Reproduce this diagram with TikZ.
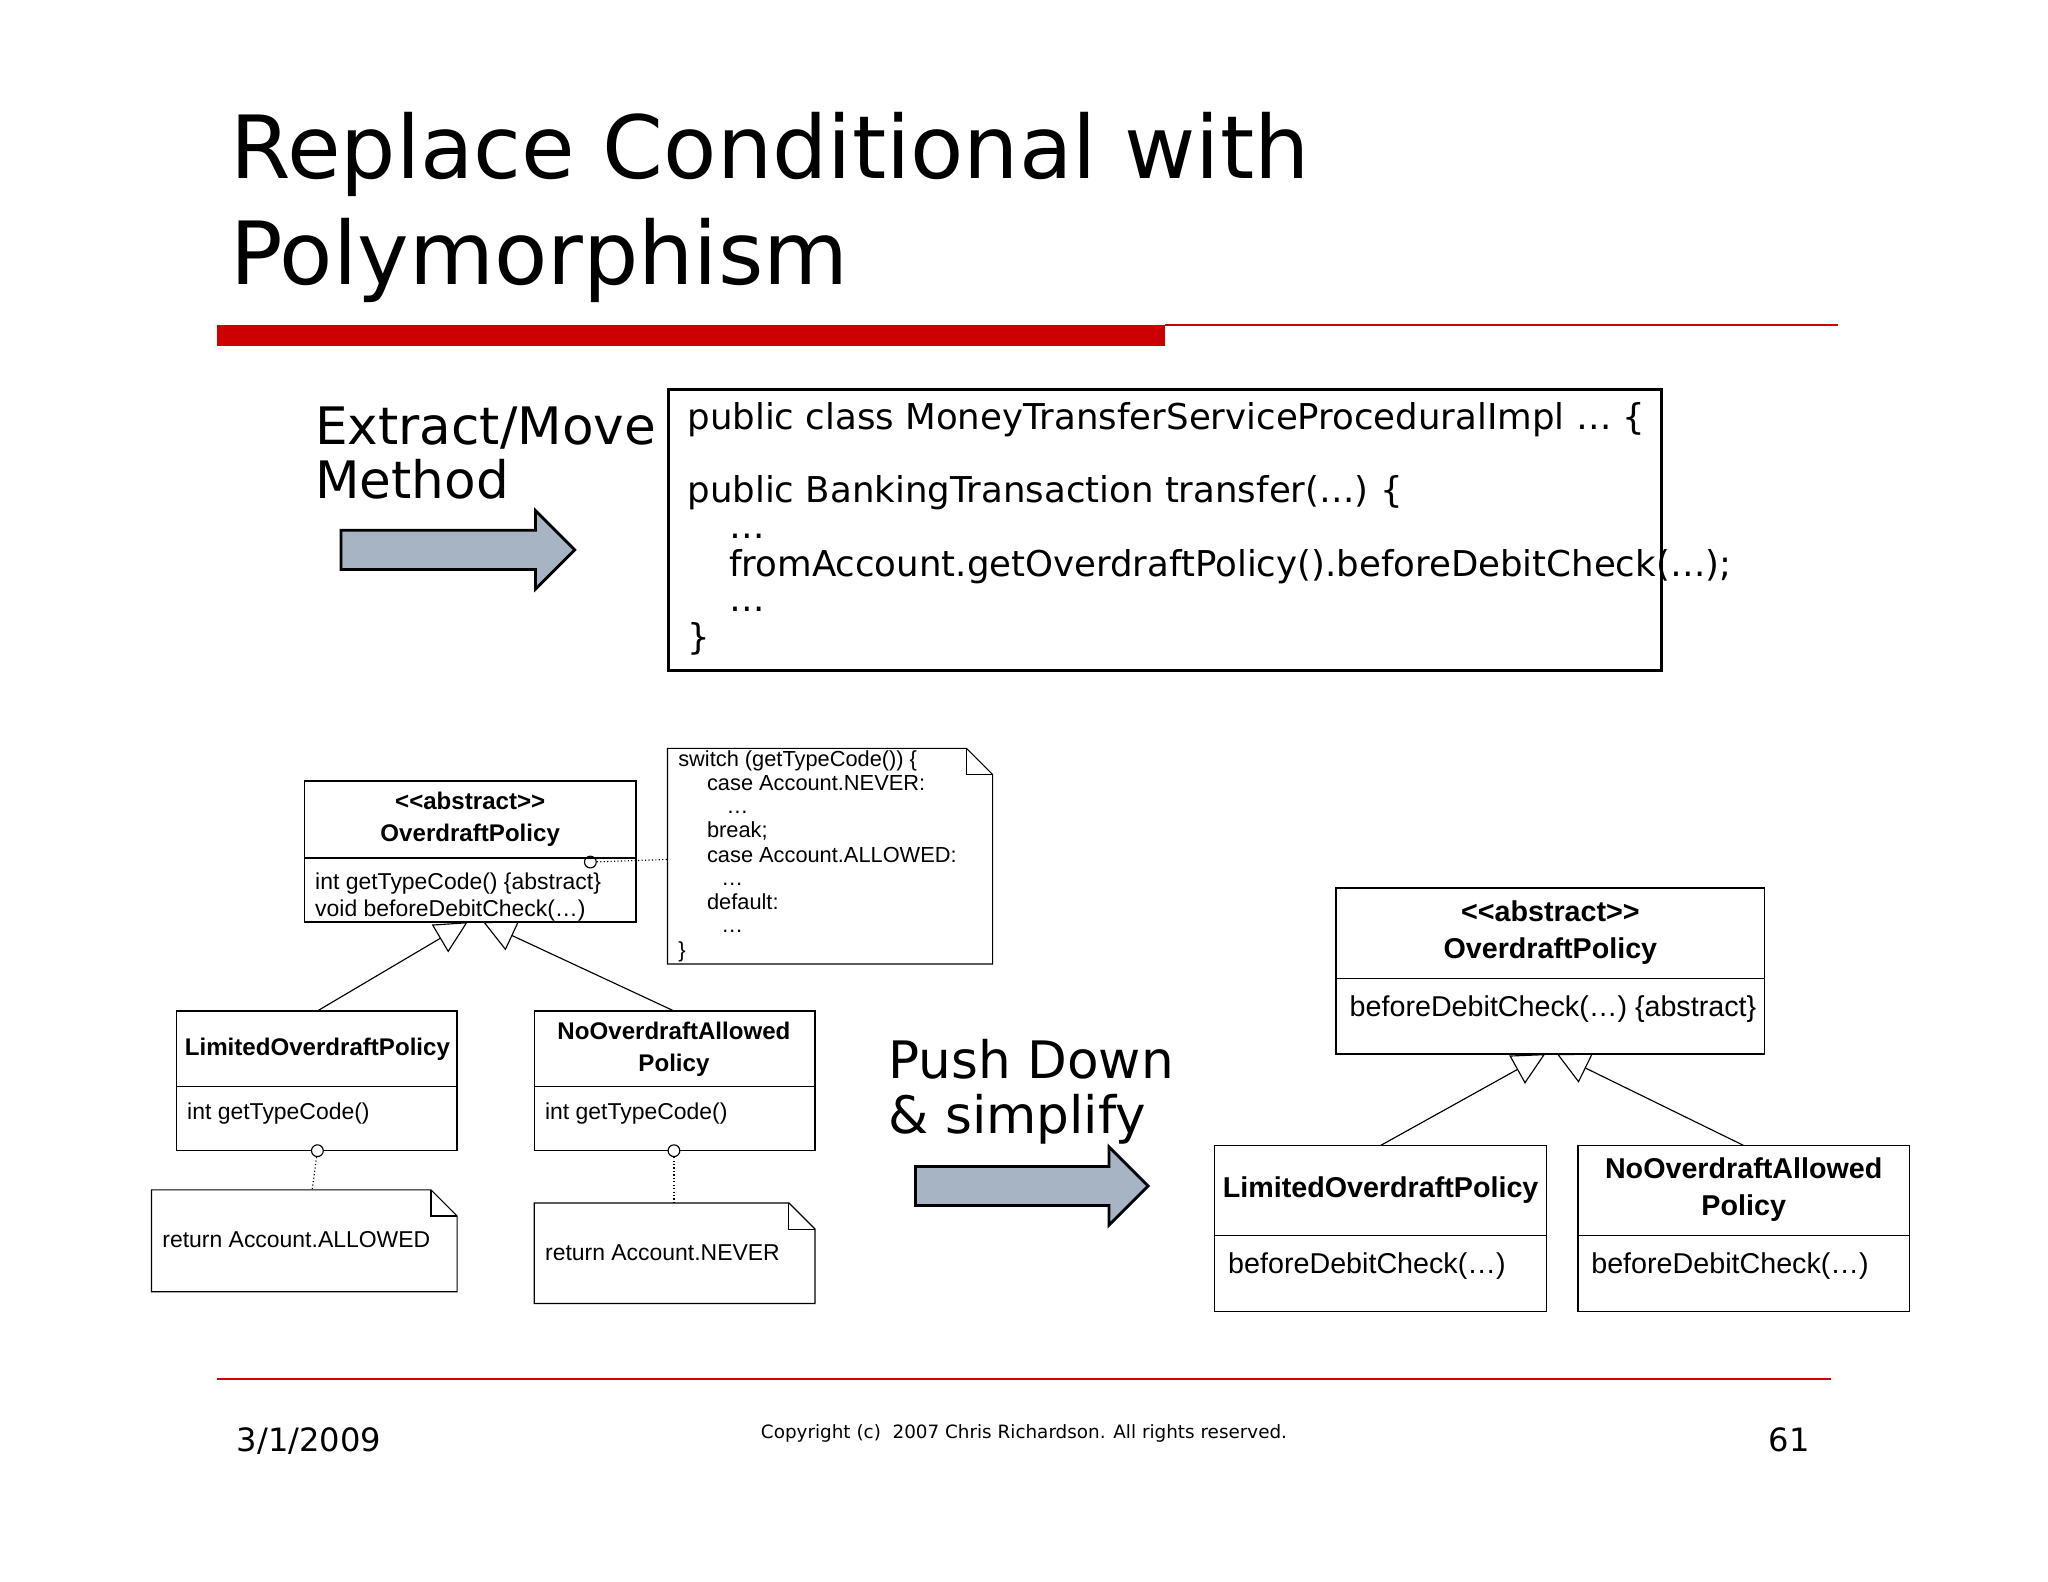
\documentclass[tikz,border=0pt]{standalone}
\usepackage{fontspec}
\setmainfont{DejaVu Sans}
\newfontfamily\uml{Liberation Sans}
\usetikzlibrary{arrows.meta,positioning}
\definecolor{slred}{HTML}{CC0000}
\definecolor{arrfill}{HTML}{A6B4C4}
\begin{document}
\begin{tikzpicture}[x=0.02cm,y=-0.02cm,
  t/.style={anchor=base west,inner sep=0},
  cls/.style={draw,line width=0.6pt},
  bigarrow/.style={draw,fill=arrfill,line width=1.2pt},
  inh/.style={-{Triangle[open,length=14pt,width=14pt]},line width=0.5pt},
  dot/.style={densely dotted,line width=0.5pt},
  note/.style={line width=0.5pt}]
\useasboundingbox (0,0) rectangle (1568,1211);
% title
\node[t,font=\fontsize{38}{40}\selectfont] (t1) at (176,137) {Replace Conditional with};
\node[t,font=\fontsize{38}{40}\selectfont] (t2) at (176,218) {Polymorphism};
\fill[slred] (166,249) rectangle (892,265);
\draw[slred,line width=1pt] (892,249) -- (1407,249);
% extract/move
\node[t,font=\fontsize{22.5}{24}\selectfont] (em1) at (241,340) {Extract/Move};
\node[t,font=\fontsize{22.5}{24}\selectfont] (em2) at (241,382) {Method};
\draw[bigarrow] (261,406) -- (410,406) -- (410,391) -- (440,421) -- (410,451) -- (410,436) -- (261,436) -- cycle;
% code box
\node[cls,line width=1.2pt,minimum width=760*0.02cm,minimum height=215*0.02cm,anchor=north west] (code) at (511,297) {};
\begin{scope}[font=\fontsize{15.5}{17}\selectfont]
\node[t] (c1) at (526,329) {public class MoneyTransferServiceProceduralImpl … \{};
\node[t] (c2) at (526,385) {public BankingTransaction transfer(…) \{};
\node[t] (c3) at (558,412) {…};
\node[t] (c4) at (558,441) {fromAccount.getOverdraftPolicy().beforeDebitCheck(…);};
\node[t] (c5) at (558,468) {…};
\node[t] (c6) at (526,497) {\}};
\end{scope}
% left UML
\begin{scope}[font=\uml\fontsize{10}{12}\selectfont]
\draw[cls] (233,598) rectangle (487,706); \draw[cls] (233,657) -- (487,657);
\node[font=\uml\bfseries\fontsize{10.5}{12}\selectfont,align=center,inner sep=0] (op) at (360,627) {<<abstract>>\\[2pt]OverdraftPolicy};
\node[t] at (241,681) {int getTypeCode() \{abstract\}};
\node[t] at (241,702) {void beforeDebitCheck(…)};
\node[circle,draw,inner sep=0,minimum size=9*0.02cm,line width=0.5pt] (oc) at (452,660) {};
\coordinate (np) at (511,658);
\draw[dot] (oc) -- (np);
\draw[note] (511,573) -- (740,573) -- (760,593) -- (760,738) -- (511,738) -- cycle;
\draw[note] (740,573) -- (740,593) -- (760,593);
\begin{scope}[font=\uml\fontsize{9.5}{11}\selectfont]
\node[t] at (519,587) {switch (getTypeCode()) \{};
\node[t] at (541,605) {case Account.NEVER:};
\node[t] at (556,623) {…};
\node[t] at (541,641) {break;};
\node[t] at (541,660) {case Account.ALLOWED:};
\node[t] at (552,678) {…};
\node[t] at (541,696) {default:};
\node[t] at (552,714) {…};
\node[t] at (519,733) {\}};
\end{scope}
\draw[cls] (135,774) rectangle (350,881); \draw[cls] (135,832) -- (350,832);
\node[font=\uml\bfseries\fontsize{10.5}{12}\selectfont] (lp) at (243,803) {LimitedOverdraftPolicy};
\node[t] at (143,857) {int getTypeCode()};
\draw[cls] (409,774) rectangle (624,881); \draw[cls] (409,832) -- (624,832);
\node[font=\uml\bfseries\fontsize{10.5}{12}\selectfont,align=center,inner sep=0] (np2) at (516,803) {NoOverdraftAllowed\\[2pt]Policy};
\node[t] at (417,857) {int getTypeCode()};
\coordinate (lt) at (243,774); \coordinate (nt) at (516,774);
\coordinate (pa) at (358,706); \coordinate (pb) at (370,706);
\draw[inh] (lt) -- (pa);
\draw[inh] (nt) -- (pb);
\node[circle,draw,inner sep=0,minimum size=9*0.02cm,line width=0.5pt,fill=white] (lc) at (243,881) {};
\node[circle,draw,inner sep=0,minimum size=9*0.02cm,line width=0.5pt,fill=white] (nc) at (516,881) {};
\coordinate (ln) at (239,911); \coordinate (nn) at (516,921);
\draw[dot] (lc) -- (ln); \draw[dot] (nc) -- (nn);
\draw[note] (116,911) -- (330,911) -- (350,931) -- (350,989) -- (116,989) -- cycle;
\draw[note] (330,911) -- (330,931) -- (350,931);
\node[t] at (124,955) {return Account.ALLOWED};
\draw[note] (409,921) -- (604,921) -- (624,941) -- (624,998) -- (409,998) -- cycle;
\draw[note] (604,921) -- (604,941) -- (624,941);
\node[t] at (417,965) {return Account.NEVER};
\end{scope}
% push down
\node[t,font=\fontsize{22.5}{24}\selectfont] (pd1) at (680,826) {Push Down};
\node[t,font=\fontsize{22.5}{24}\selectfont] (pd2) at (680,868) {\& simplify};
\draw[bigarrow] (701,893) -- (849,893) -- (849,878) -- (879,908) -- (849,938) -- (849,923) -- (701,923) -- cycle;
% right UML
\begin{scope}[font=\uml\fontsize{12.5}{14}\selectfont]
\draw[cls] (1023,680) rectangle (1351,807); \draw[cls] (1023,749) -- (1351,749);
\node[font=\uml\bfseries\fontsize{12.5}{14}\selectfont,align=center,inner sep=0] (rop) at (1187,714) {<<abstract>>\\[2pt]OverdraftPolicy};
\node[t] at (1033,778) {beforeDebitCheck(…) \{abstract\}};
\draw[cls] (930,877) rectangle (1184,1004); \draw[cls] (930,946) -- (1184,946);
\node[font=\uml\bfseries\fontsize{12.5}{14}\selectfont] (rl) at (1057,911) {LimitedOverdraftPolicy};
\node[t] at (940,975) {beforeDebitCheck(…)};
\draw[cls] (1208,877) rectangle (1462,1004); \draw[cls] (1208,946) -- (1462,946);
\node[font=\uml\bfseries\fontsize{12.5}{14}\selectfont,align=center,inner sep=0] (rn) at (1335,911) {NoOverdraftAllowed\\[2pt]Policy};
\node[t] at (1218,975) {beforeDebitCheck(…)};
\coordinate (rlt) at (1057,877); \coordinate (rnt) at (1335,877);
\coordinate (rpa) at (1183,807); \coordinate (rpb) at (1192,807);
\draw[inh] (rlt) -- (rpa);
\draw[inh] (rnt) -- (rpb);
\end{scope}
% footer
\draw[slred,line width=1pt] (166,1056) -- (1402,1056);
\node[t,font=\fontsize{14}{16}\selectfont] (date) at (181,1111) {3/1/2009};
\node[anchor=base,inner sep=0,font=\fontsize{8}{10}\selectfont] (copy) at (784,1101) {Copyright (c)~ 2007 Chris Richardson. All rights reserved.};
\node[anchor=base east,inner sep=0,font=\fontsize{14}{16}\selectfont] (pg) at (1386,1111) {61};
\end{tikzpicture}
\end{document}
